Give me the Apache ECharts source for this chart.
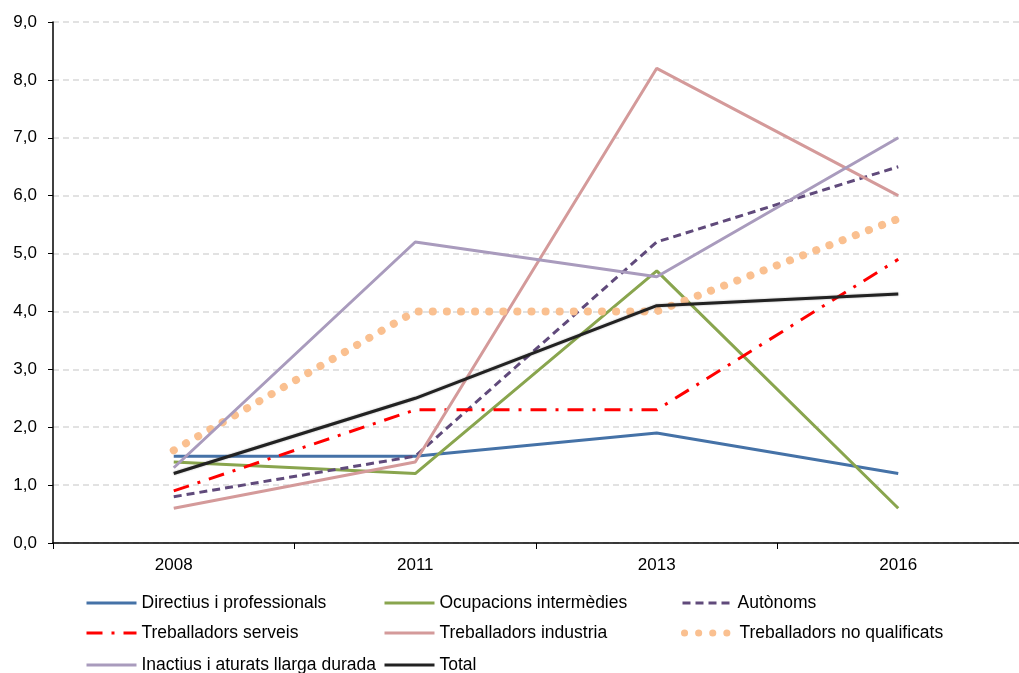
<!DOCTYPE html>
<html>
<head>
<meta charset="utf-8">
<script src="https://cdn.jsdelivr.net/npm/echarts@6/dist/echarts.min.js"></script>
<style>
    html, body { margin: 0; padding: 0; background: #fff; }
    #chart { width: 1019px; height: 673px; }
</style>
</head>
<body>
<div id="chart"></div>
<script>
// dades llegides del gràfic
const years = ['2008', '2011', '2013', '2016']
const directius = [1.5, 1.5, 1.9, 1.2]
const ocupacions = [1.4, 1.2, 4.7, 0.6]
const autonoms = [0.8, 1.5, 5.2, 6.5]
const serveis = [0.9, 2.3, 2.3, 4.9]
const industria = [0.6, 1.4, 8.2, 6.0]
const noQualificats = [1.6, 4.0, 4.0, 5.6]
const inactius = [1.3, 5.2, 4.6, 7.0]
const total = [1.2, 2.5, 4.1, 4.3]

const font = 'Liberation Sans, Arial, sans-serif'
const dotType = [0.1, 14]

function serie(name, data, color, type, width, extra) {
    return Object.assign({
        name: name,
        type: 'line',
        data: data,
        symbol: 'none',
        showSymbol: false,
        color: color,
        lineStyle: { color: color, width: width, type: type },
        z: 2
    }, extra || {})
}

const chart = echarts.init(document.getElementById('chart'))

// una llegenda per element, en tres columnes
function llegenda(name, left, center, lineStyle) {
    return {
        orient: 'horizontal',
        left: left,
        top: center - 10,
        padding: 0,
        itemWidth: 50,
        itemHeight: 12,
        itemStyle: { opacity: 0 },
        lineStyle: lineStyle || { width: 3 },
        data: [name],
        textStyle: { fontFamily: font, fontSize: 17.5, color: '#000' }
    }
}

const option = {
    animation: false,
    grid: { left: 53, right: -10, top: 22, bottom: 130 },
    legend: [
        llegenda('Directius i professionals', 85, 604),
        llegenda('Treballadors serveis', 85, 634),
        llegenda('Inactius i aturats llarga durada', 85, 666),
        llegenda('Ocupacions intermèdies', 383, 604),
        llegenda('Treballadors industria', 383, 634),
        llegenda('Total', 383, 666),
        llegenda('Autònoms', 681, 604),
        llegenda('Treballadors no qualificats', 681, 634,
            { color: '#FAC090', width: 7, type: dotType, cap: 'round' })
    ],
    xAxis: {
        type: 'category',
        data: years,
        boundaryGap: true,
        axisLine: { lineStyle: { color: '#000', width: 1.5 } },
        axisTick: { show: true, length: 6, lineStyle: { color: '#000' } },
        axisLabel: { fontFamily: font, fontSize: 17, color: '#000', margin: 14 },
        splitLine: { show: false }
    },
    yAxis: {
        type: 'value',
        min: 0,
        max: 9,
        interval: 1,
        axisLine: { show: true, lineStyle: { color: '#000', width: 1.5 } },
        axisTick: { show: true, length: 5, lineStyle: { color: '#000' } },
        axisLabel: {
            fontFamily: font, fontSize: 17, color: '#000', margin: 16,
            formatter: v => v.toFixed(1).replace('.', ',')
        },
        splitLine: { show: true, lineStyle: { color: '#d9d9d9', type: [6, 4], width: 1.5 } }
    },
    series: [
        serie('Directius i professionals', directius, '#4572A7', 'solid', 3),
        serie('Ocupacions intermèdies', ocupacions, '#89A54E', 'solid', 3),
        serie('Autònoms', autonoms, '#604A7B', [8, 5], 3),
        serie('Treballadors serveis', serveis, '#FF0000', [16, 9, 3, 9], 3),
        serie('Treballadors industria', industria, '#D49A9A', 'solid', 3),
        serie('Treballadors no qualificats', noQualificats, '#FAC090', dotType, 8,
            { lineStyle: { color: '#FAC090', width: 8, type: dotType, cap: 'round' } }),
        serie('Inactius i aturats llarga durada', inactius, '#A99BBD', 'solid', 3),
        serie('Total', total, '#222222', 'solid', 3,
            { lineStyle: { color: '#222222', width: 3, shadowColor: 'rgba(0,0,0,0.35)', shadowBlur: 2 } })
    ]
}

chart.setOption(option)
</script>
</body>
</html>
